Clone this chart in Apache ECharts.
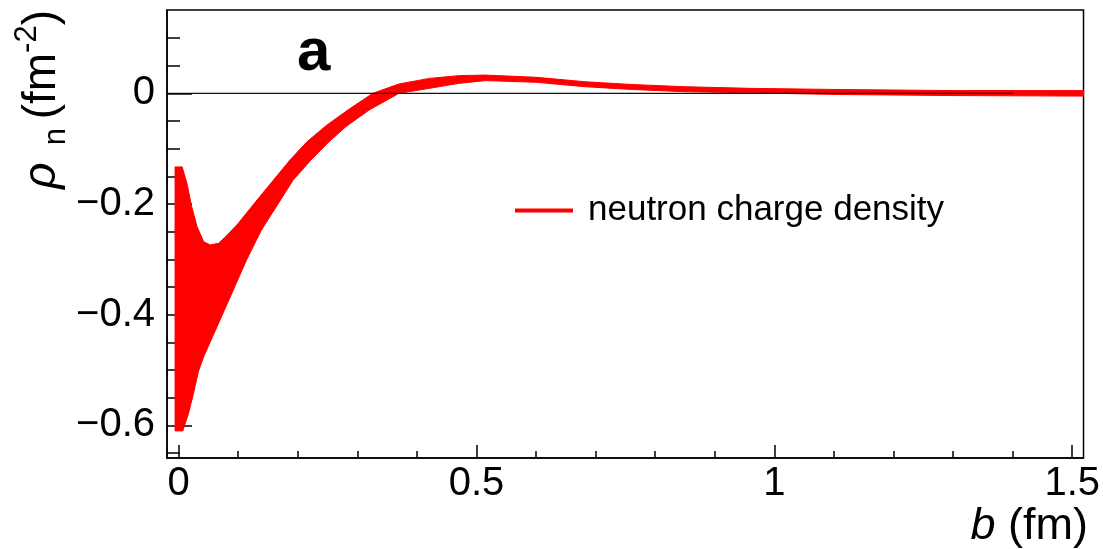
<!DOCTYPE html>
<html><head><meta charset="utf-8">
<script src="https://cdn.jsdelivr.net/npm/echarts@6/dist/echarts.min.js"></script>
<style>html,body{margin:0;padding:0;background:#fff}#c{width:1103px;height:549px}</style>
</head><body><div id="c"></div>
<script>
// ---- data ----
const upperB   = [-0.006, 0.006, 0.014, 0.022, 0.031, 0.042, 0.053, 0.067, 0.080, 0.100, 0.130, 0.159, 0.187, 0.215, 0.248, 0.287, 0.326, 0.370, 0.421, 0.470, 0.515, 0.600, 0.682, 0.760, 0.849, 0.960, 1.100, 1.300, 1.520];
const upperRho = [-0.133, -0.133, -0.163, -0.205, -0.241, -0.268, -0.274, -0.271, -0.258, -0.235, -0.195, -0.157, -0.1205, -0.088, -0.058, -0.028, 0.000, 0.017, 0.027, 0.032, 0.033, 0.029, 0.021, 0.016, 0.012, 0.009, 0.007, 0.005, 0.005];
const lowerB   = [-0.006, 0.007, 0.0167, 0.025, 0.0334, 0.042, 0.078, 0.114, 0.139, 0.165, 0.192, 0.220, 0.250, 0.281, 0.320, 0.370, 0.421, 0.470, 0.515, 0.600, 0.682, 0.760, 0.849, 0.960, 1.100, 1.300, 1.520];
const lowerRho = [-0.610, -0.610, -0.578, -0.542, -0.502, -0.476, -0.389, -0.301, -0.247, -0.203, -0.157, -0.123, -0.090, -0.060, -0.030, 0.000, 0.009, 0.018, 0.023, 0.020, 0.012, 0.007, 0.003, 0.001, -0.002, -0.004, -0.005];
const zeroLineB = [-0.0195, 1.4];
const seriesName = 'neutron charge density';

const xMajorTicks = [0, 0.5, 1, 1.5];
const xTickLabels = ['0', '0.5', '1', '1.5'];
const xMinorTicks = [0, 0.1, 0.2, 0.3, 0.4, 0.5, 0.6, 0.7, 0.8, 0.9, 1.0, 1.1, 1.2, 1.3, 1.4, 1.5];
const yMajorTicks = [-0.6, -0.4, -0.2, 0];
const yTickLabels = ['\u22120.6', '\u22120.4', '\u22120.2', '0'];
const yMinorTicks = [-0.65, -0.6, -0.55, -0.5, -0.45, -0.4, -0.35, -0.3, -0.25, -0.2, -0.15, -0.1, -0.05, 0, 0.05, 0.1];

const X_MIN = -0.0195, X_MAX = 1.519;
const Y_MIN = -0.659, Y_MAX = 0.1506;

// ---- build ----
const bandPoints = upperB.map((b, i) => [b, upperRho[i]])
  .concat(lowerB.map((b, i) => [b, lowerRho[i]]).reverse());

function labelFor(ticks, labels) {
  return v => {
    const i = ticks.findIndex(t => Math.abs(t - v) < 1e-9);
    return i >= 0 ? labels[i] : '';
  };
}
const FONT = 'Liberation Sans, Arial, Helvetica, sans-serif';
const BLACK = '#000';

const chart = echarts.init(document.getElementById('c'), null, {renderer: 'canvas'});
chart.setOption({
  animation: false,
  backgroundColor: '#fff',
  grid: {left: 167, top: 10, width: 921, height: 448, show: true, borderColor: BLACK, borderWidth: 1.5, backgroundColor: 'transparent'},
  legend: {
    data: [{name: seriesName, icon: 'rect'}],
    left: 515, top: 193, padding: 0, itemWidth: 58, itemHeight: 4, selectedMode: false,
    textStyle: {fontSize: 35, color: BLACK, fontFamily: FONT, padding: [0, 0, 0, 10]}
  },
  xAxis: [
    {type: 'value', min: X_MIN, max: X_MAX, position: 'bottom',
     axisLine: {show: true, onZero: false, lineStyle: {color: BLACK, width: 1.5}},
     axisTick: {show: true, inside: true, length: 13, customValues: xMajorTicks, lineStyle: {color: BLACK, width: 1.5}},
     axisLabel: {show: true, customValues: xMajorTicks, formatter: labelFor(xMajorTicks, xTickLabels), fontSize: 40, color: BLACK, fontFamily: FONT, margin: 6},
     splitLine: {show: false}},
    {type: 'value', min: X_MIN, max: X_MAX, position: 'bottom',
     axisLine: {show: false, onZero: false},
     axisTick: {show: true, inside: true, length: 7, customValues: xMinorTicks, lineStyle: {color: BLACK, width: 1.5}},
     axisLabel: {show: false}, splitLine: {show: false}}
  ],
  yAxis: [
    {type: 'value', min: Y_MIN, max: Y_MAX, position: 'left',
     axisLine: {show: true, onZero: false, lineStyle: {color: BLACK, width: 1.5}},
     axisTick: {show: true, inside: true, length: 25, customValues: yMajorTicks, lineStyle: {color: BLACK, width: 1.5}},
     axisLabel: {show: true, customValues: yMajorTicks, formatter: labelFor(yMajorTicks, yTickLabels), fontSize: 40, color: BLACK, fontFamily: FONT, margin: 12},
     splitLine: {show: false}},
    {type: 'value', min: Y_MIN, max: Y_MAX, position: 'left',
     axisLine: {show: false, onZero: false},
     axisTick: {show: true, inside: true, length: 13, customValues: yMinorTicks, lineStyle: {color: BLACK, width: 1.5}},
     axisLabel: {show: false}, splitLine: {show: false}}
  ],
  series: [
    {type: 'custom', name: seriesName, coordinateSystem: 'cartesian2d', xAxisIndex: 0, yAxisIndex: 0,
     itemStyle: {color: '#ff0000'}, data: bandPoints, encode: {x: 0, y: 1}, clip: true, silent: true, z: 2,
     renderItem: function (params, api) {
       if (params.dataIndex !== 0) return null;
       const pts = bandPoints.map(p => api.coord(p));
       return {type: 'polygon', shape: {points: pts}, style: {fill: '#ff0000', stroke: '#ff0000', lineWidth: 1}};
     }},
    {type: 'line', name: 'zero', xAxisIndex: 0, yAxisIndex: 0, data: zeroLineB.map(b => [b, 0]),
     symbol: 'none', silent: true, z: 5, lineStyle: {color: '#111', width: 1.3}}
  ],
  graphic: [
    {type: 'text', x: 297, y: 53, style: {text: 'a', fontSize: 60, fontWeight: 'bold', fontFamily: FONT, fill: BLACK, textVerticalAlign: 'middle'}},
    {type: 'text', x: 1088, y: 549, style: {
      text: '{i|b} (fm)', fontSize: 45, fontFamily: FONT, fill: BLACK, textAlign: 'right', textVerticalAlign: 'bottom',
      rich: {i: {fontStyle: 'italic', fontSize: 45, fontFamily: FONT}}}},
    {type: 'text', x: 72, y: 10, rotation: Math.PI / 2, style: {
      text: '{r|\u03c1}{s|  n }{m|(fm}{p|-2}{m|)}', fontFamily: FONT, fill: BLACK, textAlign: 'right', textVerticalAlign: 'bottom',
      rich: {
        r: {fontSize: 46, fontStyle: 'italic', fontFamily: FONT, lineHeight: 60},
        s: {fontSize: 31, fontFamily: FONT, verticalAlign: 'bottom', lineHeight: 30},
        m: {fontSize: 46, fontFamily: FONT, lineHeight: 60},
        p: {fontSize: 31, fontFamily: FONT, verticalAlign: 'top', lineHeight: 30}
      }}}
  ]
});
</script></body></html>
